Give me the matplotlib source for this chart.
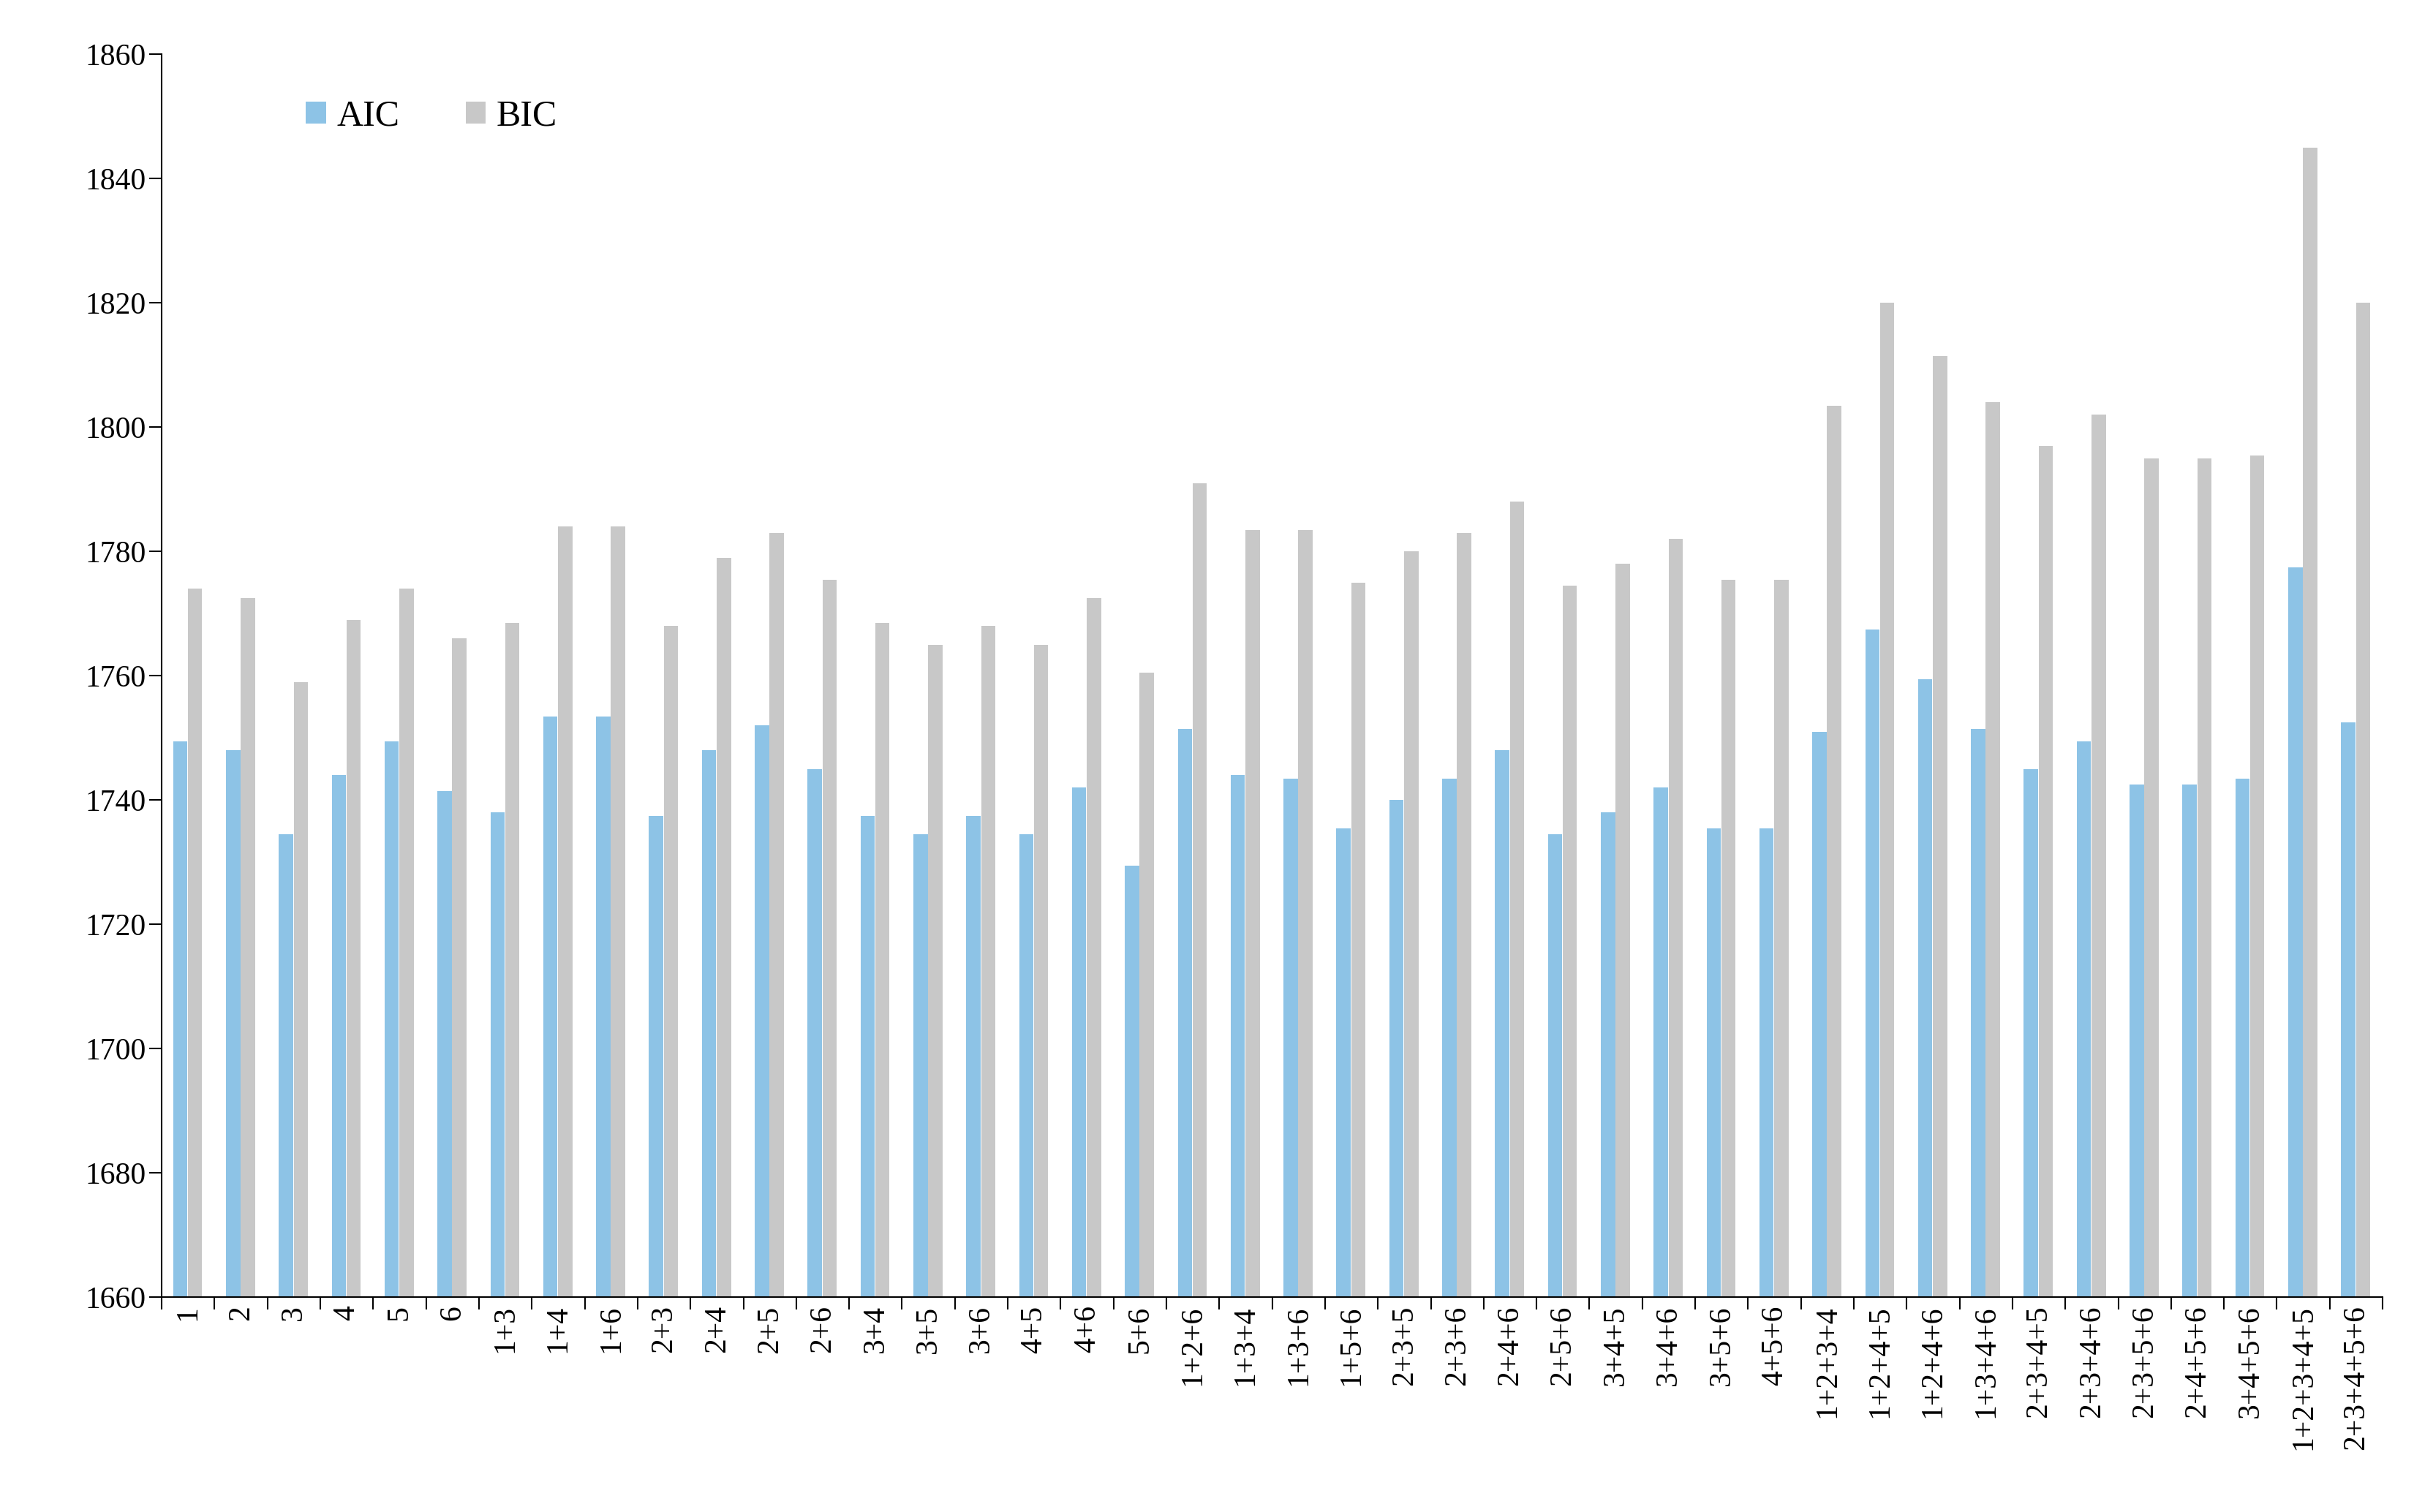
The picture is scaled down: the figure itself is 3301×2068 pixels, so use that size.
import numpy as np
import matplotlib
matplotlib.use("Agg")
from matplotlib import pyplot as plt

labels = ["1", "2", "3", "4", "5", "6", "1+3", "1+4", "1+6", "2+3", "2+4", "2+5", "2+6",
          "3+4", "3+5", "3+6", "4+5", "4+6", "5+6", "1+2+6", "1+3+4", "1+3+6", "1+5+6",
          "2+3+5", "2+3+6", "2+4+6", "2+5+6", "3+4+5", "3+4+6", "3+5+6", "4+5+6",
          "1+2+3+4", "1+2+4+5", "1+2+4+6", "1+3+4+6", "2+3+4+5", "2+3+4+6", "2+3+5+6",
          "2+4+5+6", "3+4+5+6", "1+2+3+4+5", "2+3+4+5+6"]
aic = [1749.5, 1748, 1734.5, 1744, 1749.5, 1741.5, 1738, 1753.5, 1753.5, 1737.5, 1748, 1752,
       1745, 1737.5, 1734.5, 1737.5, 1734.5, 1742, 1729.5, 1751.5, 1744, 1743.5, 1735.5,
       1740, 1743.5, 1748, 1734.5, 1738, 1742, 1735.5, 1735.5, 1751, 1767.5, 1759.5,
       1751.5, 1745, 1749.5, 1742.5, 1742.5, 1743.5, 1777.5, 1752.5]
bic = [1774, 1772.5, 1759, 1769, 1774, 1766, 1768.5, 1784, 1784, 1768, 1779, 1783, 1775.5,
       1768.5, 1765, 1768, 1765, 1772.5, 1760.5, 1791, 1783.5, 1783.5, 1775, 1780, 1783,
       1788, 1774.5, 1778, 1782, 1775.5, 1775.5, 1803.5, 1820, 1811.5, 1804, 1797, 1802,
       1795, 1795, 1795.5, 1845, 1820]

plt.rcParams['font.family'] = ['Liberation Serif', 'DejaVu Serif']
fig = plt.figure(figsize=(33.01, 20.68), dpi=100)
ax = fig.add_axes([0.067, 0.142, 0.92, 0.822])

x = np.arange(len(labels))
base = 1660
w = 0.27
ax.bar(x - 0.15, np.array(aic) - base, w, bottom=base, color='#8DC3E6', label='AIC')
ax.bar(x + 0.13, np.array(bic) - base, w, bottom=base, color='#C8C8C8', label='BIC')

ax.set_ylim(1660, 1860)
ax.set_yticks(np.arange(1660, 1861, 20))
ax.set_xlim(-0.5, len(labels) - 0.5)
ax.set_xticks(x)
ax.set_xticklabels(labels, rotation=90)
ax.set_xticks(np.arange(-0.5, len(labels), 1), minor=True)
ax.tick_params(axis='x', which='major', length=0, labelsize=30, pad=8)
ax.tick_params(axis='x', which='minor', length=12, width=1.5)
ax.tick_params(axis='y', labelsize=30, length=12, width=1.5)
for s in ['top', 'right']:
    ax.spines[s].set_visible(False)
for s in ['left', 'bottom']:
    ax.spines[s].set_linewidth(1.5)

ax.legend(loc='upper left', bbox_to_anchor=(0.05, 0.99), ncol=2, frameon=False,
          fontsize=36, handlelength=0.55, handleheight=0.55, columnspacing=1.8, handletextpad=0.3)

fig.savefig('out.png', dpi=100)
